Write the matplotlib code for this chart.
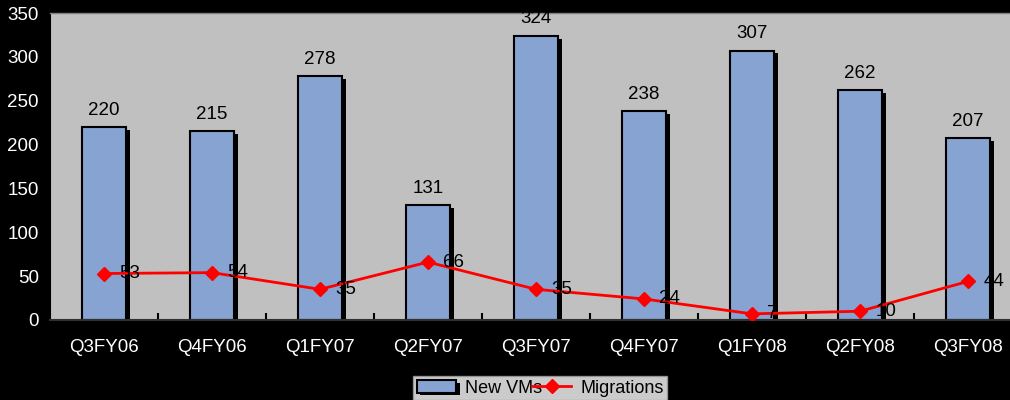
import numpy as np
import matplotlib.pyplot as plt
import matplotlib.patheffects as pe

quarters = ['Q3FY06', 'Q4FY06', 'Q1FY07', 'Q2FY07', 'Q3FY07',
            'Q4FY07', 'Q1FY08', 'Q2FY08', 'Q3FY08']
new_vms = [220, 215, 278, 131, 324, 238, 307, 262, 207]
migrations = [53, 54, 35, 66, 35, 24, 7, 10, 44]

plt.rcParams['font.family'] = ['Liberation Sans', 'DejaVu Sans']
fs = 13.5

fig = plt.figure(figsize=(10.1, 4), dpi=100, facecolor='black')
# plot area runs past the right edge of the picture, as in the original
ax = fig.add_axes([50 / 1010, 80 / 400, 972 / 1010, 307 / 400])
ax.set_facecolor('#C0C0C0')

x = np.arange(len(quarters))
bars = ax.bar(x, new_vms, width=0.41, color='#86A3D1', edgecolor='black',
              linewidth=1.5, label='New VMs', zorder=2)
for b in bars:
    b.set_path_effects([pe.SimplePatchShadow(offset=(2.5, -2), shadow_rgbFace='black', alpha=1.0),
                        pe.Normal()])

for xi, v in zip(x, new_vms):
    ax.annotate(str(v), (xi, v), xytext=(0, 6), textcoords='offset points',
                ha='center', va='bottom', fontsize=fs, color='black')

line, = ax.plot(x, migrations, color='#FF0000', linewidth=2, marker='D', markersize=7,
                label='Migrations', zorder=3)
for xi, v in zip(x, migrations):
    ax.annotate(str(v), (xi, v), xytext=(11, 0), textcoords='offset points',
                ha='left', va='center', fontsize=fs, color='black', zorder=4)

ax.set_xlim(-0.5, len(quarters) - 0.5)
ax.set_ylim(0, 350)
ax.set_yticks(np.arange(0, 351, 50))
ax.set_xticks(x)
ax.set_xticklabels(quarters)
ax.set_xticks(np.arange(0.5, len(quarters) - 0.5, 1), minor=True)
ax.tick_params(axis='x', which='major', length=0, pad=14, colors='white', labelsize=fs)
ax.tick_params(axis='x', which='minor', direction='in', length=5, width=1.5, color='black')
ax.tick_params(axis='y', direction='out', length=4, width=1.5, colors='white',
               labelsize=fs, pad=4)
ax.yaxis.set_tick_params(color='black')

for side in ['top', 'right']:
    ax.spines[side].set_color('#808080')
    ax.spines[side].set_linewidth(1)
ax.spines['left'].set_color('black')
ax.spines['bottom'].set_color('#303030')
ax.spines['left'].set_linewidth(1.5)
ax.spines['bottom'].set_linewidth(1.5)

leg = fig.legend([bars, line], ['New VMs', 'Migrations'], loc='upper left',
                 bbox_to_anchor=(413 / 1010, 1 - 376 / 400),
                 ncol=2, fontsize=13, frameon=True, fancybox=False,
                 borderpad=0.2, handlelength=2.2, columnspacing=-0.6,
                 handletextpad=0.5, borderaxespad=0)
leg.get_frame().set_facecolor('white')
leg.get_frame().set_edgecolor('#A0A0A0')
leg.get_frame().set_linewidth(1)

fig.savefig('out.png', dpi=100, facecolor='black')
